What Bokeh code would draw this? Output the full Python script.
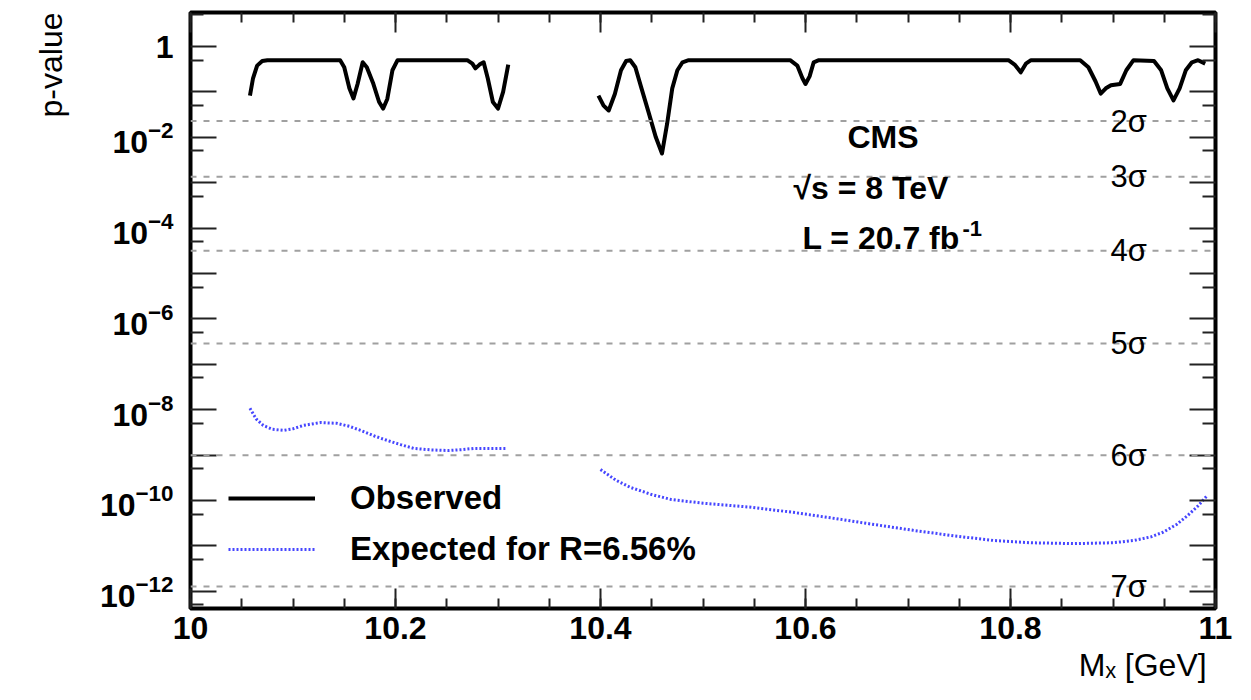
import numpy as np
from bokeh.plotting import figure
from bokeh.models import (FixedTicker, LinearAxis, LogAxis, Span, Label, Legend,
                          LegendItem, Range1d, Grid, CustomJSTickFormatter,
                          LogTickFormatter, Title)
from bokeh.embed import file_html
from bokeh.resources import INLINE

# ---- observed local p-value, two scanned mass windows ----
obs1_mass = [10.058, 10.061, 10.065, 10.070, 10.075, 10.146, 10.150, 10.155, 10.159,
             10.163, 10.168, 10.172, 10.178, 10.184, 10.188, 10.192, 10.197, 10.202,
             10.270, 10.275, 10.278, 10.282, 10.286, 10.290, 10.295, 10.300, 10.305, 10.310]
obs1_p = [0.083, 0.20, 0.38, 0.48, 0.5, 0.5, 0.35, 0.12, 0.072,
          0.15, 0.45, 0.35, 0.16, 0.06, 0.043, 0.07, 0.30, 0.5,
          0.5, 0.42, 0.33, 0.40, 0.45, 0.20, 0.06, 0.043, 0.10, 0.40]

obs2_mass = [10.398, 10.403, 10.408, 10.414, 10.420, 10.425, 10.429, 10.434, 10.440,
             10.447, 10.454, 10.460, 10.465, 10.470, 10.475, 10.480, 10.486, 10.585,
             10.592, 10.597, 10.600, 10.604, 10.608, 10.613, 10.798, 10.804, 10.810,
             10.815, 10.820, 10.868, 10.876, 10.883, 10.888, 10.893, 10.898, 10.907,
             10.913, 10.920, 10.940, 10.947, 10.953, 10.959, 10.965, 10.971, 10.977,
             10.983, 10.990]
obs2_p = [0.083, 0.05, 0.039, 0.09, 0.30, 0.48, 0.5, 0.35, 0.12,
          0.035, 0.01, 0.0044, 0.02, 0.12, 0.30, 0.45, 0.5, 0.5,
          0.38, 0.20, 0.15, 0.22, 0.45, 0.5, 0.5, 0.40, 0.27,
          0.42, 0.5, 0.5, 0.35, 0.17, 0.092, 0.12, 0.14, 0.15,
          0.30, 0.5, 0.48, 0.30, 0.12, 0.065, 0.12, 0.30, 0.45,
          0.5, 0.42]

# ---- expected p-value for R = 6.56% ----
exp1_mass = [10.058, 10.064, 10.071, 10.080, 10.091, 10.100, 10.110, 10.127, 10.143,
             10.155, 10.166, 10.180, 10.192, 10.205, 10.218, 10.235, 10.251, 10.265,
             10.276, 10.292, 10.309]
exp1_p = [1.07e-8, 6.3e-9, 4.5e-9, 3.7e-9, 3.5e-9, 3.8e-9, 4.5e-9, 5.2e-9, 5.0e-9,
          4.3e-9, 3.5e-9, 2.6e-9, 2.1e-9, 1.7e-9, 1.4e-9, 1.3e-9, 1.26e-9, 1.32e-9,
          1.4e-9, 1.4e-9, 1.4e-9]

exp2_mass = [10.400, 10.415, 10.429, 10.450, 10.469, 10.500, 10.547, 10.590, 10.626,
             10.665, 10.705, 10.745, 10.783, 10.820, 10.862, 10.900, 10.921, 10.937,
             10.949, 10.962, 10.973, 10.983, 10.992]
exp2_p = [4.8e-10, 2.8e-10, 1.95e-10, 1.35e-10, 1.05e-10, 8.7e-11, 7.1e-11, 5.4e-11, 4.1e-11,
          3.0e-11, 2.2e-11, 1.66e-11, 1.32e-11, 1.17e-11, 1.12e-11, 1.17e-11, 1.32e-11, 1.58e-11,
          2.0e-11, 2.95e-11, 4.7e-11, 7.6e-11, 1.29e-10]

# ---- significance reference levels (one-sided) ----
sigma_levels = [2, 3, 4, 5, 6, 7]
sigma_pvalues = [2.275e-2, 1.350e-3, 3.167e-5, 2.867e-7, 9.866e-10, 1.280e-12]

# ---- axis ticks ----
x_ticks = [10.0, 10.2, 10.4, 10.6, 10.8, 11.0]
x_tick_labels = ["10", "10.2", "10.4", "10.6", "10.8", "11"]
x_minor_ticks = [float(v) for v in np.round(np.arange(10.0, 11.0001, 0.05), 2)]
y_decades = list(range(-13, 2))
y_label_exponents = [0, -2, -4, -6, -8, -10, -12]

X_MIN, X_MAX = 10.0, 11.0
LOG_LO, LOG_HI = -12.38, 0.75
W, H = 1251, 700
FL, FR, FT, FB = 190, 1215, 12, 608   # frame edges (px)

FONT = "Liberation Sans"


def sx(px):
    """canvas x pixel -> data x"""
    return X_MIN + (px - FL) / (FR - FL) * (X_MAX - X_MIN)


def sy(py):
    """canvas y pixel -> data y (log scale)"""
    return 10 ** (LOG_HI - (py - FT) / (FB - FT) * (LOG_HI - LOG_LO))


p = figure(width=W, height=H,
           x_range=Range1d(X_MIN, X_MAX), y_range=Range1d(10 ** LOG_LO, 10 ** LOG_HI),
           y_axis_type="log", x_axis_location=None, y_axis_location=None,
           output_backend="svg", toolbar_location=None,
           min_border_left=FL, min_border_right=W - FR,
           min_border_top=FT, min_border_bottom=H - FB)
p.background_fill_color = "white"
p.border_fill_color = "white"
p.outline_line_color = "black"
p.outline_line_width = 4
for g in p.select(type=Grid):
    g.visible = False

xt = FixedTicker(ticks=x_ticks, minor_ticks=x_minor_ticks)
yt = FixedTicker(ticks=[10.0 ** k for k in y_decades],
                 minor_ticks=[5 * 10.0 ** k for k in range(-14, 1)])
yt_labels = FixedTicker(ticks=[10.0 ** e for e in y_label_exponents], minor_ticks=[])

blank = CustomJSTickFormatter(code="return ''")


def style_axis(ax, major_len, minor_len, labels=False):
    ax.axis_line_color = None
    ax.major_tick_in = major_len
    ax.major_tick_out = 0
    ax.minor_tick_in = minor_len
    ax.minor_tick_out = 0
    ax.major_tick_line_color = "#222222"
    ax.minor_tick_line_color = "#222222"
    ax.major_tick_line_width = 2
    ax.minor_tick_line_width = 2
    if not labels:
        ax.formatter = blank
        ax.major_label_text_font_size = "1px"
        ax.major_label_standoff = 0


# bottom axis with tick labels
xb = LinearAxis(ticker=xt,
                major_label_overrides={t: l for t, l in zip(x_ticks, x_tick_labels)})
style_axis(xb, 20, 10, labels=True)
xb.major_label_text_font = FONT
xb.major_label_text_font_style = "bold"
xb.major_label_text_font_size = "32px"
xb.major_label_text_color = "black"
xb.major_label_standoff = 8
p.add_layout(xb, "below")

xa = LinearAxis(ticker=xt)
style_axis(xa, 20, 10)
p.add_layout(xa, "above")

# left: tick marks on every decade
yl = LogAxis(ticker=yt)
style_axis(yl, 26, 13)
p.add_layout(yl, "left")

# left: decade labels 1, 10^-2, ... 10^-12
yl_lab = LogAxis(ticker=yt_labels, formatter=LogTickFormatter(min_exponent=1),
                 major_label_overrides={1.0: "1"})
yl_lab.axis_line_color = None
yl_lab.major_tick_in = 0
yl_lab.major_tick_out = 0
yl_lab.minor_tick_in = 0
yl_lab.minor_tick_out = 0
yl_lab.major_label_standoff = 17
yl_lab.major_label_text_font = FONT
yl_lab.major_label_text_font_style = "bold"
yl_lab.major_label_text_font_size = "32px"
yl_lab.major_label_text_color = "black"
p.add_layout(yl_lab, "left")

yr = LogAxis(ticker=yt)
style_axis(yr, 26, 13)
p.add_layout(yr, "right")

# axis titles, flush with the top / right end of the frame
p.add_layout(Title(text="M\u2093  [GeV]", align="right", standoff=6,
                   text_font=FONT, text_font_style="normal", text_font_size="32px",
                   text_color="black"), "below")
p.add_layout(Title(text="p-value", align="right", standoff=56,
                   text_font=FONT, text_font_style="normal", text_font_size="32px",
                   text_color="black"), "left")

# significance levels
for n, pv in zip(sigma_levels, sigma_pvalues):
    p.add_layout(Span(location=pv, dimension="width", line_color="#a0a0a0",
                      line_width=2, line_dash="6 7"))
    p.add_layout(Label(x=sx(1110), y=pv, text=f"{n}\u03c3", text_font=FONT,
                       text_font_size="31px", text_color="black",
                       text_align="left", text_baseline="alphabetic"))

# curves
obs_r = p.line(obs1_mass, obs1_p, line_color="black", line_width=4, line_join="round")
p.line(obs2_mass, obs2_p, line_color="black", line_width=4, line_join="round")
exp_r = p.line(exp1_mass, exp1_p, line_color="#4646ff", line_width=3, line_dash="2 2")
p.line(exp2_mass, exp2_p, line_color="#4646ff", line_width=3, line_dash="2 2")

legend = Legend(items=[LegendItem(label="Observed", renderers=[obs_r]),
                       LegendItem(label="Expected for R=6.56%", renderers=[exp_r])],
                location=(38, 39), glyph_width=87, glyph_height=40, label_height=40,
                label_standoff=35, spacing=11, padding=0, margin=0,
                border_line_color=None, background_fill_alpha=0,
                label_text_font=FONT, label_text_font_style="bold",
                label_text_font_size="33px", label_text_color="black")
p.add_layout(legend)

# experiment / dataset tags
SUP = 22
tag = dict(text_font=FONT, text_font_style="bold", text_color="black", text_baseline="middle")
p.add_layout(Label(x=sx(847), y=sy(136), text="CMS", text_font_size="32px", **tag))
p.add_layout(Label(x=sx(793), y=sy(187), text="\u221as = 8 TeV", text_font_size="32px", **tag))
p.add_layout(Label(x=sx(802), y=sy(237), text="L = 20.7 fb", text_font_size="32px", **tag))
p.add_layout(Label(x=sx(962), y=sy(237), y_offset=9, text="-1",
                   text_font_size=f"{SUP}px", **tag))

open("out.html", "w").write(file_html(p, INLINE))
